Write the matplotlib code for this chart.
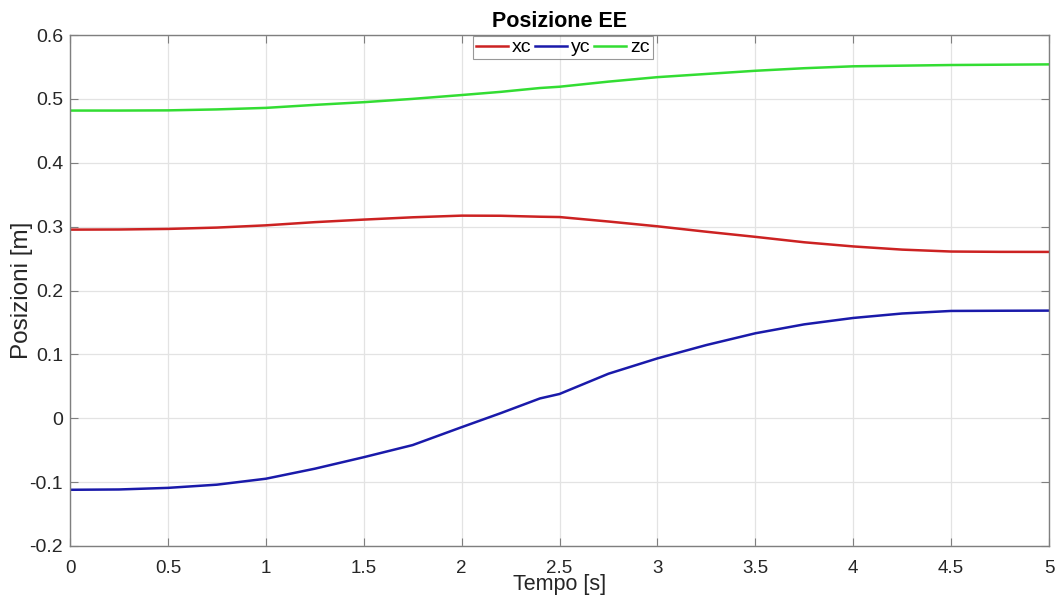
import matplotlib
matplotlib.use("Agg")
import matplotlib.pyplot as plt

t = [0, 0.25, 0.5, 0.75, 1.0, 1.25, 1.5, 1.75, 2.0, 2.2, 2.4, 2.5, 2.75, 3.0,
     3.25, 3.5, 3.75, 4.0, 4.25, 4.5, 4.75, 5.0]
xc = [0.2953, 0.2955, 0.2964, 0.2985, 0.302, 0.307, 0.311, 0.3146, 0.3172, 0.317,
      0.3155, 0.315, 0.308, 0.3005, 0.292, 0.284, 0.2755, 0.269, 0.264, 0.261,
      0.2605, 0.2604]
yc = [-0.112, -0.1115, -0.109, -0.104, -0.0947, -0.079, -0.061, -0.042, -0.014, 0.008,
      0.031, 0.038, 0.0697, 0.0937, 0.1146, 0.133, 0.147, 0.157, 0.164, 0.168,
      0.1683, 0.1685]
zc = [0.4817, 0.4817, 0.482, 0.4835, 0.4859, 0.4906, 0.4948, 0.500, 0.506, 0.511,
      0.517, 0.519, 0.527, 0.534, 0.539, 0.544, 0.548, 0.551, 0.552, 0.553,
      0.5535, 0.554]

labels = ["xc", "yc", "zc"]
colors = ["#cc2222", "#1a1aaa", "#33dd33"]
xt = [0, 0.5, 1, 1.5, 2, 2.5, 3, 3.5, 4, 4.5, 5]
yt = [-0.2, -0.1, 0, 0.1, 0.2, 0.3, 0.4, 0.5, 0.6]

plt.rcParams['font.family'] = ['Liberation Sans', 'DejaVu Sans']

fig = plt.figure(figsize=(10.57, 5.96), dpi=100)
ax = fig.add_axes([70/1057, 1-546/596, (1049-70)/1057, (546-35)/596])

for series, lab, c in zip([xc, yc, zc], labels, colors):
    ax.plot(t, series, color=c, lw=1.8, label=lab)

ax.set_xlim(0, 5)
ax.set_ylim(-0.2, 0.6)
ax.set_xticks(xt)
ax.set_xticklabels([f"{v:g}" for v in xt], fontsize=13.5)
ax.set_yticks(yt)
ax.set_yticklabels([f"{v:g}" for v in yt], fontsize=14)

ax.grid(True, color="#e3e3e3", lw=0.9)
ax.set_axisbelow(True)
for s in ax.spines.values():
    s.set_color("#7f7f7f")
    s.set_linewidth(1.0)
ax.tick_params(direction="in", length=6, color="#7f7f7f", labelcolor="#262626",
               top=True, right=True, pad=5)
ax.tick_params(axis="x", pad=10)

ax.set_title("Posizione EE", fontsize=15.5, fontweight="bold", pad=6)
ax.set_xlabel("Tempo [s]", fontsize=15.5, labelpad=-2, color="#262626")
ax.set_ylabel("Posizioni [m]", fontsize=17.5, color="#262626")
ax.yaxis.set_label_coords((33-70)/979, 0.5)

leg = ax.legend(loc="upper center", bbox_to_anchor=(0.5033, 1.0), ncol=3, fontsize=14,
                frameon=True, fancybox=False, edgecolor="#7f7f7f", handlelength=1.65,
                handletextpad=0.2, columnspacing=0.2, borderpad=0.15, borderaxespad=0.05)
leg.get_frame().set_linewidth(0.8)

fig.savefig("out.png", dpi=100, facecolor="white")
